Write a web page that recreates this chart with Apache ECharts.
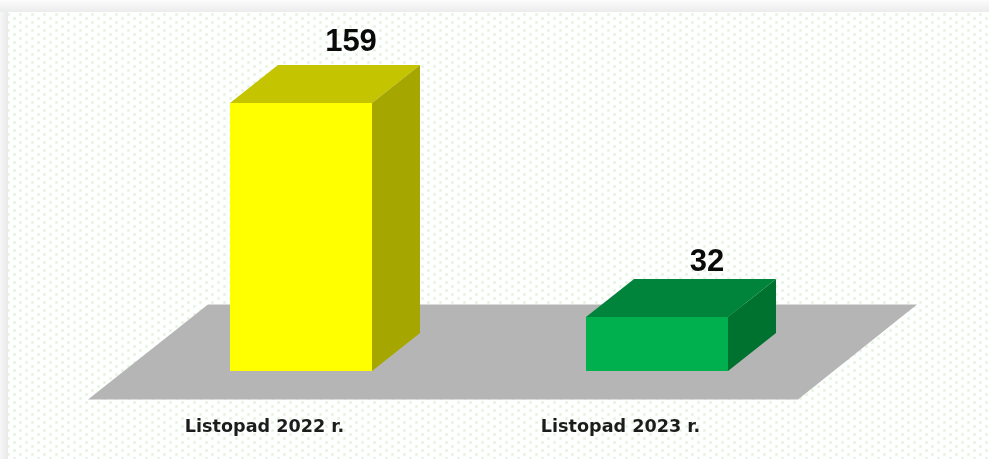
<!DOCTYPE html>
<html><head><meta charset="utf-8">
<style>html,body{margin:0;padding:0;background:#fff;overflow:hidden}#c{width:989px;height:459px;filter:blur(0.55px)}</style>
<script src="https://cdn.jsdelivr.net/npm/echarts@6/dist/echarts.min.js"></script>
</head><body><div id="c"></div>
<script>
const categories = ['Listopad 2022 r.', 'Listopad 2023 r.'];
const values = [159, 32];
const frontColors = ['#ffff00', '#00b04f'];
const topColors = ['#c4c400', '#00843c'];
const sideColors = ['#a6a600', '#00722f'];

const DX = 48, DY = 38;
const tile = document.createElement('canvas');
tile.width = 12; tile.height = 8;
const g = tile.getContext('2d');
g.fillStyle = '#feffff'; g.fillRect(0,0,12,8);
g.fillStyle = '#eef5e9';
g.fillRect(1,1,3,3); g.fillRect(7,5,3,3);
g.fillStyle = '#e2eeda';
g.fillRect(2,2,1,1); g.fillRect(8,6,1,1);

function face(points, fill){ return {type:'polygon', shape:{points}, style:{fill}, silent:true}; }
function fade(x2, y2, a, b){ return {type:'linear', x:0, y:0, x2, y2, colorStops:[{offset:0,color:a},{offset:1,color:b}]}; }

const chart = echarts.init(document.getElementById('c'), null, {renderer:'canvas'});
chart.setOption({
  backgroundColor:'#ffffff',
  animation:false,
  graphic:[
    {type:'rect', z:-3, silent:true, shape:{x:0,y:0,width:989,height:12}, style:{fill:fade(0,1,'#fcfcfc','#ececec')}},
    {type:'rect', z:-3, silent:true, shape:{x:0,y:12,width:8,height:447}, style:{fill:fade(1,0,'#f7f7f7','#e9e9e9')}},
    {type:'rect', z:-2, silent:true, shape:{x:8,y:12,width:981,height:447}, style:{fill:{image:tile, repeat:'repeat'}}}
  ],
  grid:{left:123, width:712, top:34, height:337},
  xAxis:{type:'category', data:categories, axisLine:{show:false}, axisTick:{show:false},
    axisLabel:{color:'#1c1c1c', fontFamily:'DejaVu Sans', fontWeight:'bold', fontSize:17.6, margin:47, padding:[0,73,0,0]}},
  yAxis:{type:'value', min:0, max:200, show:false, splitLine:{show:false}},
  series:[
    {type:'custom', z:1, silent:true, data:[0], renderItem(p, api){
      const c = p.coordSys, base = c.y + c.height;
      const yF = base + 28.5, yB = base - 66.5;
      return face([[c.x-35,yF],[c.x+c.width-37,yF],[c.x+c.width+82,yB],[c.x+85,yB]], '#b5b5b5');
    }},
    {type:'custom', z:2, silent:true, data:values.map((v,i)=>[i,v]), encode:{x:0,y:1}, renderItem(p, api){
      const i = api.value(0), top = api.coord([i, api.value(1)]), bot = api.coord([i, 0]);
      const w = 142, l = top[0]-w/2, r = l+w, t = top[1], b = bot[1], h = b-t;
      return {type:'group', children:[
        face([[l,t],[r,t],[r+DX,t-DY],[l+DX,t-DY]], topColors[i]),
        face([[r,t],[r+DX,t-DY],[r+DX,b-DY],[r,b]], sideColors[i]),
        {type:'rect', shape:{x:l,y:t,width:w,height:h}, style:{fill:frontColors[i]}},
        {type:'text', style:{text:String(api.value(1)), x:top[0]+DX+2, y:t-DY+4.5-4.4-h*0.0284,
          align:'center', verticalAlign:'bottom', fill:'#0a0a0a',
          font:'bold 31px "Liberation Sans"'}}
      ]};
    }}
  ]
});
</script></body></html>
